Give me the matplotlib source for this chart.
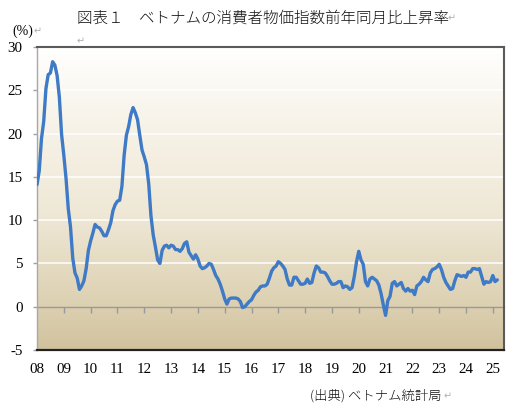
import numpy as np
import matplotlib
matplotlib.use('Agg')
import matplotlib.pyplot as plt
from matplotlib.colors import LinearSegmentedColormap

# Vietnam CPI, year-on-year change (%), monthly Jan 2008 - Mar 2025
cpi_2008 = [14.1, 15.7, 19.4, 21.4, 25.2, 26.8, 27.0, 28.3, 27.9, 26.7, 24.2, 19.9]
cpi_2009 = [17.5, 14.8, 11.3, 9.2, 5.6, 3.9, 3.3, 2.0, 2.4, 3.0, 4.4, 6.5]
cpi_2010 = [7.6, 8.5, 9.5, 9.2, 9.1, 8.7, 8.2, 8.2, 8.9, 9.7, 11.1, 11.8]
cpi_2011 = [12.2, 12.3, 13.9, 17.5, 19.8, 20.8, 22.2, 23.0, 22.4, 21.6, 19.8, 18.1]
cpi_2012 = [17.3, 16.4, 14.2, 10.5, 8.3, 6.9, 5.4, 5.0, 6.5, 7.0, 7.1, 6.8]
cpi_2013 = [7.1, 7.0, 6.6, 6.6, 6.4, 6.7, 7.3, 7.5, 6.3, 5.9, 5.5, 6.0]
cpi_2014 = [5.5, 4.7, 4.4, 4.5, 4.7, 5.0, 4.9, 4.3, 3.6, 3.2, 2.6, 1.8]
cpi_2015 = [0.9, 0.3, 0.9, 1.0, 1.0, 1.0, 0.9, 0.6, -0.1, 0.0, 0.3, 0.6]
cpi_2016 = [0.8, 1.3, 1.7, 1.9, 2.3, 2.4, 2.4, 2.6, 3.3, 4.1, 4.5, 4.7]
cpi_2017 = [5.2, 5.0, 4.7, 4.3, 3.2, 2.5, 2.5, 3.4, 3.4, 3.0, 2.6, 2.6]
cpi_2018 = [2.7, 3.2, 2.7, 2.8, 3.9, 4.7, 4.5, 4.0, 4.0, 3.9, 3.5, 3.0]
cpi_2019 = [2.6, 2.6, 2.7, 2.9, 2.9, 2.2, 2.4, 2.3, 2.0, 2.2, 3.5, 5.2]
cpi_2020 = [6.4, 5.4, 4.9, 2.9, 2.4, 3.2, 3.4, 3.2, 3.0, 2.5, 1.5, 0.2]
cpi_2021 = [-1.0, 0.7, 1.2, 2.7, 2.9, 2.4, 2.6, 2.8, 2.1, 1.8, 2.1, 1.8]
cpi_2022 = [1.9, 1.4, 2.4, 2.6, 2.9, 3.4, 3.1, 2.9, 3.9, 4.3, 4.4, 4.6]
cpi_2023 = [4.9, 4.3, 3.4, 2.8, 2.4, 2.0, 2.1, 3.0, 3.7, 3.6, 3.5, 3.6]
cpi_2024 = [3.4, 4.0, 4.0, 4.4, 4.4, 4.3, 4.4, 3.5, 2.6, 2.9, 2.8, 2.9]
cpi_2025 = [3.6, 2.9, 3.1]

year_labels = ['08', '09', '10', '11', '12', '13', '14', '15', '16',
               '17', '18', '19', '20', '21', '22', '23', '24', '25']
y_ticks = [-5, 0, 5, 10, 15, 20, 25, 30]

values = np.array(cpi_2008 + cpi_2009 + cpi_2010 + cpi_2011 + cpi_2012 + cpi_2013 +
                  cpi_2014 + cpi_2015 + cpi_2016 + cpi_2017 + cpi_2018 + cpi_2019 +
                  cpi_2020 + cpi_2021 + cpi_2022 + cpi_2023 + cpi_2024 + cpi_2025)
months = np.arange(len(values))
year_pos = np.arange(len(year_labels)) * 12

W, H = 513, 407
fig = plt.figure(figsize=(W / 100, H / 100), dpi=100)
fig.patch.set_facecolor('white')

L, R, T, B = 37, 504, 47, 350
ax = fig.add_axes([L / W, 1 - B / H, (R - L) / W, (B - T) / H])
xmax = 209
ax.set_xlim(0, xmax)
ax.set_ylim(-5, 30)

# gradient background
cmap = LinearSegmentedColormap.from_list(
    'bg', [(0.0, '#D1C29E'), (0.143, '#DCD0B1'), (0.45, '#EFE8D6'),
           (0.75, '#F7F3E9'), (1.0, '#FFFFFE')])
grad = np.linspace(0, 1, 256).reshape(-1, 1)
ax.imshow(grad, extent=[0, xmax, -5, 30], origin='lower', aspect='auto',
          cmap=cmap, zorder=0, interpolation='bicubic')

# gridlines
ax.set_yticks(y_ticks)
for yv in y_ticks:
    if yv > 0 and yv < 30:
        ax.axhline(yv, color='white', lw=1.1, zorder=1)

# data line
ax.plot(months, values, color='#3E7AC5', lw=2.4, zorder=3,
        solid_joinstyle='round', solid_capstyle='round')

# zero axis with tick marks
sec = ax.secondary_xaxis(5 / 35)
sec.set_xticks(year_pos[1:])
sec.tick_params(axis='x', direction='out', length=4, width=1, color='#999999',
                labelbottom=False, labeltop=False)
sec.spines['bottom'].set_color('#9A9A9A')
sec.spines['bottom'].set_linewidth(1.0)

# main axis styling
ax.set_xticks(year_pos)
ax.set_xticklabels(year_labels, fontfamily='Liberation Serif', fontsize=10.8)
ax.tick_params(axis='x', length=0, pad=9.5, colors='#000000')
ax.tick_params(axis='y', direction='out', length=3, width=1, color='#A0A0A0',
               pad=7.5)
ax.set_yticklabels([str(v) for v in y_ticks], fontfamily='Liberation Serif',
                   fontsize=10.8)

ax.spines['left'].set_color('#A8A8A8')
ax.spines['left'].set_linewidth(1.0)
ax.spines['bottom'].set_color('#222222')
ax.spines['bottom'].set_linewidth(1.6)
for s in ['top', 'right']:
    ax.spines[s].set_color('#5A5A5A')
    ax.spines[s].set_linewidth(1.5)

jp = ['Noto Sans CJK JP', 'DejaVu Sans']
mark = dict(color='#B0B0B0', fontsize=7, family=jp, va='center', ha='left')

# title
fig.text(77 / W, 1 - 18 / H, '図表１　ベトナムの消費者物価指数前年同月比上昇率',
         family=jp, fontsize=11.2, fontweight='light', ha='left', va='center',
         color='#111111')
fig.text(448 / W, 1 - 18 / H, '↵', **mark)

# unit label
fig.text(12 / W, 1 - 31 / H, '(%)', family='Liberation Serif', fontsize=10,
         ha='left', va='center')
fig.text(34 / W, 1 - 31 / H, '↵', **mark)
fig.text(77 / W, 1 - 41 / H, '↵', **mark)

# source
fig.text(310 / W, 1 - 396 / H, '(出典) ベトナム統計局', family=jp, fontsize=9.6,
         fontweight='light', ha='left', va='center', color='#111111')
fig.text(444 / W, 1 - 396 / H, '↵', **mark)

fig.savefig('out.png', dpi=100)
